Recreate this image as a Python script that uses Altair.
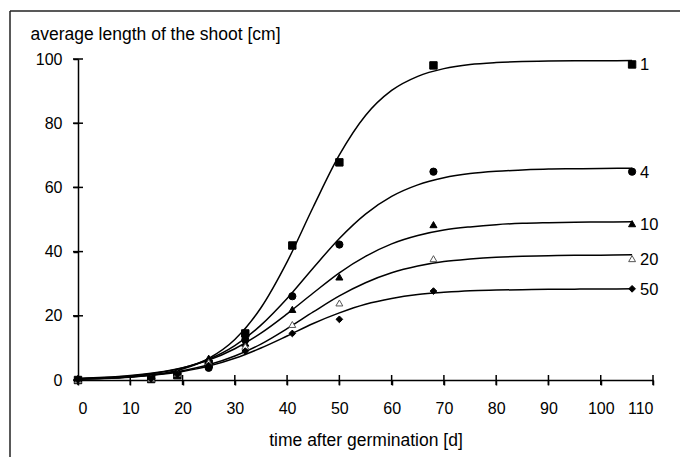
import altair as alt
import pandas as pd

# ---- data ----
series = ["1", "4", "10", "20", "50"]

obs_days = [0, 14, 19, 25, 32, 41, 50, 68, 106]
obs_1 = [0, 0.3, 1.5, 5.0, 14.5, 41.9, 67.8, 98.0, 98.3]
obs_4 = [0, 0.5, 2.0, 3.8, 12.5, 26.1, 42.2, 64.9, 64.9]
obs_10 = [0, 0.5, 2.2, 6.8, 11.5, 22.0, 32.1, 48.4, 48.7]
obs_20 = [0, 0.5, 2.0, 5.5, 10.5, 17.3, 24.0, 37.8, 37.8]
obs_50 = [0, 0.4, 1.8, 4.5, 9.0, 14.5, 18.9, 27.7, 28.4]

curve_days = [0, 5, 10, 15, 20, 25, 30, 35, 40, 45, 50, 55, 60, 65, 70, 75, 80, 85, 90, 95, 100, 106]
fit_1 = [0.22, 0.43, 0.87, 1.73, 3.44, 6.7, 12.6, 22.5, 36.8, 53.9, 70.1, 82.4, 90.2, 94.6, 97.0, 98.3, 98.9, 99.2, 99.35, 99.45, 99.48, 99.5]
fit_4 = [0.38, 0.68, 1.21, 2.15, 3.75, 6.45, 10.7, 17.1, 25.4, 34.9, 44.1, 51.7, 57.2, 60.8, 63.0, 64.3, 65.0, 65.4, 65.7, 65.8, 65.9, 66.0]
fit_10 = [0.49, 0.82, 1.39, 2.33, 3.85, 6.2, 9.74, 14.6, 20.6, 27.1, 33.4, 38.5, 42.4, 45.0, 46.7, 47.7, 48.4, 48.8, 49.0, 49.15, 49.2, 49.3]
fit_20 = [0.36, 0.62, 1.05, 1.76, 2.91, 4.73, 7.47, 11.2, 16.0, 21.2, 26.2, 30.3, 33.4, 35.5, 36.9, 37.7, 38.25, 38.55, 38.7, 38.85, 38.9, 39.0]
fit_50 = [0.32, 0.55, 0.95, 1.6, 2.67, 4.32, 6.75, 9.96, 13.7, 17.6, 20.9, 23.6, 25.4, 26.6, 27.3, 27.8, 28.0, 28.15, 28.25, 28.3, 28.35, 28.4]

x_ticks = [0, 10, 20, 30, 40, 50, 60, 70, 80, 90, 100, 110]
y_ticks = [0, 20, 40, 60, 80, 100]

x_title = "time after germination [d]"
y_title = "average length of the shoot [cm]"

# ---- tables ----
obs_vals = [obs_1, obs_4, obs_10, obs_20, obs_50]
fit_vals = [fit_1, fit_4, fit_10, fit_20, fit_50]

obs = pd.DataFrame(
    [{"series": s, "day": d, "len": v} for s, vals in zip(series, obs_vals) for d, v in zip(obs_days, vals)]
)
fit = pd.DataFrame(
    [{"series": s, "day": d, "len": v} for s, vals in zip(series, fit_vals) for d, v in zip(curve_days, vals)]
)
labels = pd.DataFrame([{"series": s, "day": obs_days[-1], "len": vals[-1]} for s, vals in zip(series, obs_vals)])
xt = pd.DataFrame({"t": x_ticks})
yt = pd.DataFrame({"t": y_ticks})

W, H = 575, 321
FONT = "Liberation Sans"

xscale = alt.Scale(domain=[0, 110], nice=False, zero=False)
yscale = alt.Scale(domain=[0, 100], nice=False)

xenc = alt.X(
    "day:Q",
    scale=xscale,
    axis=alt.Axis(
        values=x_ticks, title=x_title, titleFontSize=17.5, titleFont=FONT, titleFontWeight="normal",
        titleY=65, titleBaseline="alphabetic", labelPadding=15, tickSize=5,
    ),
)
yenc = alt.Y(
    "len:Q",
    scale=yscale,
    axis=alt.Axis(
        values=y_ticks, title=y_title, titleFontSize=17.5, titleFont=FONT, titleFontWeight="normal",
        titleAngle=0, titleAlign="left", titleBaseline="alphabetic", titleX=-48, titleY=-20,
        labelPadding=11, tickSize=5,
    ),
)

shape_scale = alt.Scale(domain=series, range=["square", "circle", "triangle-up", "triangle-up", "diamond"])
fill_scale = alt.Scale(domain=series, range=["black", "black", "black", "white", "black"])
stroke_scale = alt.Scale(domain=series, range=["black", "black", "black", "#555555", "black"])
size_scale = alt.Scale(domain=series, range=[55, 45, 45, 55, 40])

curves = alt.Chart(fit).mark_line(color="black", strokeWidth=1.5, interpolate="monotone").encode(
    x=xenc, y=yenc, detail="series:N"
)

points = alt.Chart(obs).mark_point(filled=True, opacity=1, strokeWidth=1).encode(
    x="day:Q",
    y="len:Q",
    shape=alt.Shape("series:N", scale=shape_scale, legend=None),
    fill=alt.Fill("series:N", scale=fill_scale, legend=None),
    stroke=alt.Stroke("series:N", scale=stroke_scale, legend=None),
    size=alt.Size("series:N", scale=size_scale, legend=None),
)

text = alt.Chart(labels).mark_text(
    align="left", baseline="middle", dx=8, dy=1, font=FONT, fontSize=16.5, color="black"
).encode(x="day:Q", y="len:Q", text="series:N")

xtick_marks = alt.Chart(xt).mark_rule(color="black", strokeWidth=1.5).encode(
    x="t:Q", y=alt.value(H - 5), y2=alt.value(H + 5)
)
ytick_marks = alt.Chart(yt).mark_rule(color="black", strokeWidth=1.5).encode(
    y="t:Q", x=alt.value(-5), x2=alt.value(5)
)

frame = alt.Data(values=[{"k": 1}])
frame_top = alt.Chart(frame).mark_rule(color="#222222", strokeWidth=1.5).encode(
    x=alt.value(-68), x2=alt.value(640), y=alt.value(-48)
)
frame_left = alt.Chart(frame).mark_rule(color="#222222", strokeWidth=1.5).encode(
    x=alt.value(-68), y=alt.value(-48), y2=alt.value(420)
)

chart = (
    alt.layer(curves, points, text, xtick_marks, ytick_marks, frame_top, frame_left)
    .properties(
        width=W,
        height=H,
        autosize=alt.AutoSizeParams(type="none"),
        padding={"left": 70, "top": 51, "right": 27, "bottom": 77},
        background="white",
    )
    .configure_view(stroke=None)
    .configure_axis(
        grid=False,
        domainColor="black",
        domainWidth=1.5,
        tickColor="black",
        tickWidth=1.5,
        labelFont=FONT,
        labelFontSize=16,
        labelColor="black",
        titleColor="black",
    )
)

chart.save("out.html", embed_options={"renderer": "svg", "actions": False})
